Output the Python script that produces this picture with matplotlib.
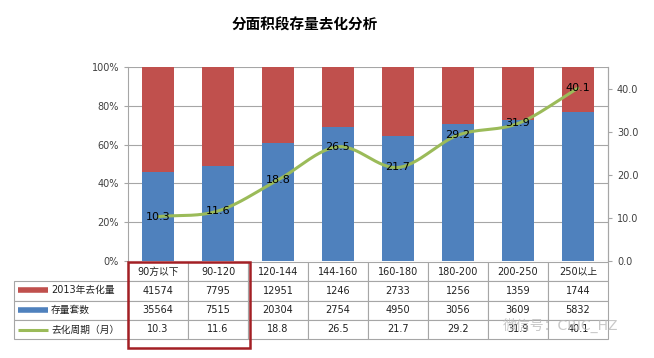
import numpy as np
import matplotlib
matplotlib.use("Agg")
import matplotlib.pyplot as plt
from matplotlib.patches import Rectangle
from matplotlib.lines import Line2D

plt.rcParams['font.family'] = ['DejaVu Sans', 'Noto Sans CJK SC']

categories = ['90方以下', '90-120', '120-144', '144-160', '160-180', '180-200', '200-250', '250以上']
sold_2013 = [41574, 7795, 12951, 1246, 2733, 1256, 1359, 1744]
stock = [35564, 7515, 20304, 2754, 4950, 3056, 3609, 5832]
cycle = [10.3, 11.6, 18.8, 26.5, 21.7, 29.2, 31.9, 40.1]
row_names = ['2013年去化量', '存量套数', '去化周期（月）']

red = '#C0504D'
blue = '#4F81BD'
green = '#9BBB59'
grid_c = '#A6A6A6'
text_c = '#404040'

fig = plt.figure(figsize=(6.54, 3.58), dpi=100)
ax = fig.add_axes([128/654, 1-261/358, 480/654, 194/358])

x = np.arange(len(categories))
total = np.array(sold_2013) + np.array(stock)
blue_share = np.array(stock) / total * 100
red_share = np.array(sold_2013) / total * 100

ax.bar(x, blue_share, width=0.52, color=blue, zorder=2)
ax.bar(x, red_share, width=0.52, bottom=blue_share, color=red, zorder=2)
ax.set_xlim(-0.5, len(categories) - 0.5)
ax.set_ylim(0, 100)
ax.set_yticks(np.arange(0, 101, 20))
ax.set_yticklabels(['%d%%' % v for v in range(0, 101, 20)])
ax.yaxis.grid(True, color=grid_c, linewidth=0.8, zorder=0)
ax.set_xticks([])
ax.tick_params(axis='y', labelsize=7, colors=text_c, length=3, color=grid_c)
for s in ['top', 'bottom']:
    ax.spines[s].set_visible(False)
ax.spines['left'].set_color(grid_c)
ax.spines['right'].set_color(grid_c)

# right axis with smoothed line
ax2 = ax.twinx()
ax2.set_ylim(0, 45)
ax2.set_yticks(np.arange(0, 41, 10))
ax2.set_yticklabels(['%.1f' % v for v in range(0, 41, 10)])
ax2.tick_params(axis='y', labelsize=7, colors=text_c, length=3, color=grid_c)
for s in ['top', 'bottom', 'left']:
    ax2.spines[s].set_visible(False)
ax2.spines['right'].set_color(grid_c)

# cubic hermite smoothing through the points, like excel smooth line
yc = np.array(cycle)
n = len(yc)
tang = np.zeros(n)
tang[1:-1] = (yc[2:] - yc[:-2]) / 2
tang[0] = yc[1] - yc[0]
tang[-1] = yc[-1] - yc[-2]
xs, ys = [], []
for i in range(n - 1):
    t = np.linspace(0, 1, 30)
    h00 = 2*t**3 - 3*t**2 + 1
    h10 = t**3 - 2*t**2 + t
    h01 = -2*t**3 + 3*t**2
    h11 = t**3 - t**2
    xs.extend(i + t)
    ys.extend(h00*yc[i] + h10*tang[i] + h01*yc[i+1] + h11*tang[i+1])
ax2.plot(xs, ys, color=green, linewidth=2.2, zorder=3, solid_capstyle='round')
for i, v in enumerate(cycle):
    ax2.text(i, v, '%.1f' % v, ha='center', va='center', fontsize=8, color='black', zorder=4)

# data table under the plot
cell_text = []
for row in [sold_2013, stock, cycle]:
    cell_text.append([''] + [str(v) for v in row])
col_w = [114] + [60] * len(categories)
col_w = [w / sum(col_w) for w in col_w]
tbl = ax.table(cellText=cell_text, colLabels=[''] + categories, colWidths=col_w,
               cellLoc='center', bbox=[-114/480, -78/194, 594/480, 77/194])
tbl.auto_set_font_size(False)
for (r, c), cell in tbl.get_celld().items():
    cell.set_edgecolor(grid_c)
    cell.set_linewidth(0.8)
    cell.get_text().set_fontsize(7)
    cell.get_text().set_color('#202020')
    if r == 0 and c == 0:
        cell.visible_edges = ''

row_y = [-29/194, -49/194, -68.5/194]
keys = [(red, 4), (blue, 4), (green, 2.2)]
for yy, name, (col, lw) in zip(row_y, row_names, keys):
    ax.add_line(Line2D([-110/480, -80/480], [yy, yy], color=col, linewidth=lw,
                       solid_capstyle='butt', transform=ax.transAxes, clip_on=False))
    ax.text(-77/480, yy, name, transform=ax.transAxes, ha='left', va='center',
            fontsize=7, color='#202020')

# red highlight box around the first two columns
ax.add_patch(Rectangle((0, -87/194), 122/480, 86/194, transform=ax.transAxes,
                       fill=False, edgecolor='#A31F24', linewidth=1.8, clip_on=False, zorder=5))

fig.text(305/654, 1-25/358, '分面积段存量去化分析', ha='center', va='center',
         fontsize=10.5, fontweight='bold', color='black')
fig.text(503/654, 1-325/358, '微信号：CRIC_HZ', ha='left', va='center',
         fontsize=10, color='#BBBBBB', alpha=0.8)

fig.savefig('out.png', dpi=100)
